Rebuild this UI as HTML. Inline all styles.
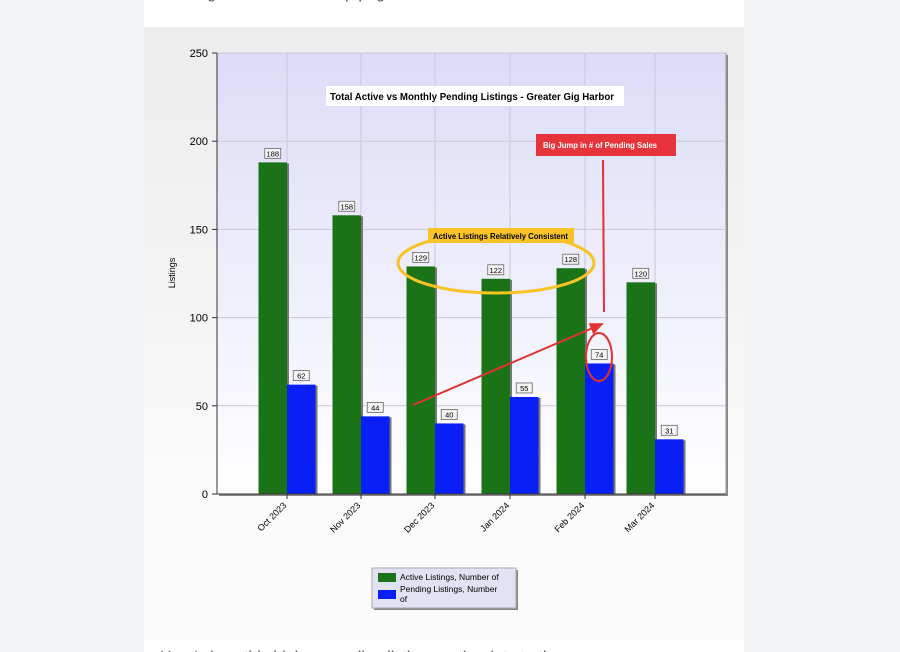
<!DOCTYPE html>
<html><head><meta charset="utf-8"><style>
body{margin:0;width:900px;height:652px;overflow:hidden;background:#f3f4f6;font-family:"Liberation Sans",sans-serif;}
#page{position:absolute;left:144px;top:0;width:600px;height:652px;background:#fff;}
svg{position:absolute;left:0;top:0}
</style></head><body>
<div id="page"></div>
<svg id="chart" width="900" height="652">
<defs>
<linearGradient id="bg" x1="0" y1="0" x2="0" y2="1"><stop offset="0" stop-color="#ececec"/><stop offset="1" stop-color="#f9f9f9"/></linearGradient>
<linearGradient id="plot" x1="0" y1="0" x2="0" y2="1"><stop offset="0" stop-color="#dcdcf7"/><stop offset="1" stop-color="#ffffff"/></linearGradient>
<marker id="ah" markerWidth="8" markerHeight="8" refX="6" refY="4" orient="auto"><path d="M0,1 L7,4 L0,7 z" fill="#e53030"/></marker>
</defs>
<text x="160" y="-2" font-size="16" fill="#555">Looking at the chart the top page of data...</text>
<rect x="144" y="27" width="600" height="430" fill="url(#bg)"/>
<rect x="144" y="457" width="600" height="183" fill="#fbfbfb"/>
<rect x="219" y="55" width="509" height="441" fill="#888"/>
<rect x="217" y="53" width="509" height="441" fill="url(#plot)" stroke="#999"/>
<g id="grid"></g><g id="bars"></g><g id="axes"></g>
<text x="175" y="273" font-size="9" transform="rotate(-90 175 273)" text-anchor="middle">Listings</text>
<rect x="326" y="86" width="298" height="20" fill="#fff"/>
<text x="330" y="100" font-size="10" font-weight="bold" textLength="284" lengthAdjust="spacingAndGlyphs">Total Active vs Monthly Pending Listings - Greater Gig Harbor</text>
<ellipse cx="496" cy="263" rx="98" ry="30" fill="none" stroke="#f7c325" stroke-width="3"/>
<rect x="428" y="228" width="146" height="15" fill="#f7c325"/>
<text x="433" y="239" font-size="8" font-weight="bold" textLength="135" lengthAdjust="spacingAndGlyphs">Active Listings Relatively Consistent</text>
<rect x="536" y="134" width="140" height="22" fill="#e7333a"/>
<text x="543" y="148" font-size="8" font-weight="bold" fill="#fff" textLength="114" lengthAdjust="spacingAndGlyphs">Big Jump in # of Pending Sales</text>
<line x1="603" y1="160" x2="604" y2="312" stroke="#e53030" stroke-width="2"/>
<line x1="413" y1="405" x2="602" y2="324" stroke="#e53030" stroke-width="2" marker-end="url(#ah)"/>
<ellipse cx="599" cy="357" rx="13" ry="24" fill="none" stroke="#e53030" stroke-width="2"/>
<g>
<rect x="374" y="570" width="144" height="40" fill="#888"/>
<rect x="372" y="568" width="144" height="40" fill="#e2e2f5" stroke="#aaa"/>
<rect x="378" y="573" width="18" height="9" fill="#1a7317"/>
<text x="400" y="580" font-size="8.5">Active Listings, Number of</text>
<rect x="378" y="590" width="18" height="9" fill="#0a1ff5"/>
<text x="400" y="592" font-size="8.5">Pending Listings, Number</text>
<text x="400" y="602" font-size="8.5">of</text>
</g>
<text x="160" y="662" font-size="16" fill="#555">Here's how this blah ... pending listings ... the data to the...</text>
</svg>
<script>
const categories=["Oct 2023","Nov 2023","Dec 2023","Jan 2024","Feb 2024","Mar 2024"];
const activeValues=[188,158,129,122,128,120];
const pendingValues=[62,44,40,55,74,31];
const yTicks=[0,50,100,150,200,250];
const NS="http://www.w3.org/2000/svg";
const x0=217,x1=726,y0=494,y1=53,yMax=250;
const centers=[287,361,435,510,585,655];
function yScale(v){return y0-(v/yMax)*(y0-y1);}
function xScale(i){return centers[i];}
function mk(tag,attrs,parent,txt){const e=document.createElementNS(NS,tag);for(const k in attrs)e.setAttribute(k,attrs[k]);if(txt!==undefined)e.textContent=txt;parent.appendChild(e);return e;}
const grid=document.getElementById('grid'),bars=document.getElementById('bars'),axes=document.getElementById('axes');
yTicks.forEach(t=>{const y=yScale(t);
 const g=mk('line',{x1:x0,x2:x1,y1:y,y2:y,stroke:'#c9c9d6'},grid);
 
 
 const tk=mk('line',{x1:x0-5,x2:x0,y1:y,y2:y,stroke:'#333'},axes);
 const l=mk('text',{x:x0-9,y:y+4,'font-size':11,'text-anchor':'end'},axes,String(t));
 
 
});
categories.forEach((c,i)=>{const x=xScale(i);
 const g=mk('line',{x1:x,x2:x,y1:y1,y2:y0,stroke:'#c9c9d6'},grid);
 
 
 const w=28.5;
 [[activeValues[i],x-w,'#1a7317','bar-active'],[pendingValues[i],x,'#0a1ff5','bar-pending']].forEach(([v,bx,col,nm])=>{
  const y=yScale(v);
  const s=mk('rect',{x:bx+2,y:y+1,width:w,height:y0-y-1,fill:'#777'},bars);
  const r=mk('rect',{x:bx,y:y,width:w,height:y0-y,fill:col},bars);
  
  
  const cx=bx+w/2;
  const lb=mk('rect',{x:cx-8,y:y-14,width:16,height:10,fill:'#f4f4f4',stroke:'#666','stroke-width':0.8},bars);
  const lt=mk('text',{x:cx,y:y-6,'font-size':7.5,'text-anchor':'middle'},bars,String(v));
  
  
 });
 mk('line',{x1:x,x2:x,y1:y0,y2:y0+5,stroke:'#333'},axes);
 const t=mk('text',{x:x,y:y0+12,'font-size':9,'text-anchor':'end',transform:`rotate(-45 ${x} ${y0+12})`},axes,c);
 
 
});
mk('line',{x1:x0,x2:x0,y1:y1,y2:y0,stroke:'#333'},axes);
mk('line',{x1:x0,x2:x1,y1:y0,y2:y0,stroke:'#333'},axes);
</script>
</body></html>
